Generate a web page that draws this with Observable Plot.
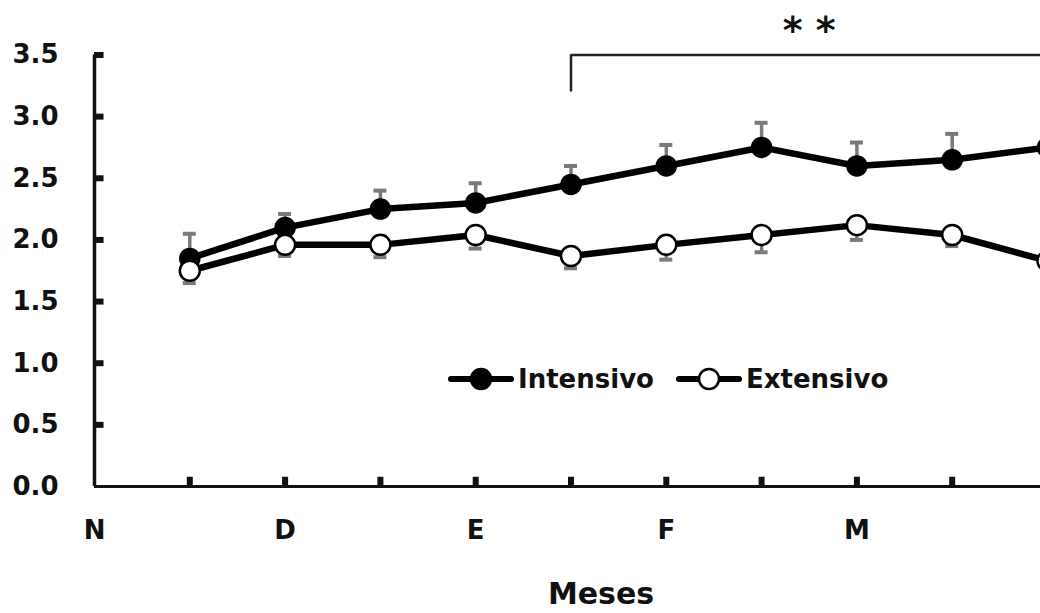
<!DOCTYPE html>
<html>
<head>
<meta charset="utf-8">
<script src="https://cdn.jsdelivr.net/npm/d3@7"></script>
<script src="https://cdn.jsdelivr.net/npm/@observablehq/plot@0.6"></script>
<style>
  html, body { margin: 0; padding: 0; background: #fff; overflow: hidden; }
  #wrap { position: relative; width: 1040px; height: 613px; }
  #legend { position: absolute; left: 448px; top: 364px; display: flex; align-items: center;
            font-family: "DejaVu Sans", sans-serif; font-weight: bold; font-size: 26px; color: #111; }
  #legend .item { display: flex; align-items: center; }
  #legend .item + .item { margin-left: 22px; }
  #legend svg { display: block; margin-right: 4px; }
</style>
</head>
<body>
<div id="wrap"></div>
<script>
// ---- data ----
const monthIndex = [1, 2, 3, 4, 5, 6, 7, 8, 9, 10];
const intensivo    = [1.85, 2.10, 2.25, 2.30, 2.45, 2.60, 2.75, 2.60, 2.65, 2.75];
const intensivoErr = [0.20, 0.11, 0.15, 0.16, 0.15, 0.17, 0.20, 0.19, 0.21, 0.18];
const extensivo    = [1.75, 1.96, 1.96, 2.04, 1.87, 1.96, 2.04, 2.12, 2.04, 1.83];
const extensivoErr = [0.10, 0.09, 0.10, 0.11, 0.10, 0.12, 0.14, 0.12, 0.09, 0.10];
const monthTicks  = [0, 2, 4, 6, 8];
const monthLabels = ["N", "D", "E", "F", "M"];
const yTicks = [0, 0.5, 1.0, 1.5, 2.0, 2.5, 3.0, 3.5];
const minorTicks = [1, 2, 3, 4, 5, 6, 7, 8, 9, 10];
const seriesNames = ["Intensivo", "Extensivo"];
const sigStart = 5, sigEnd = 10, sigLevel = 3.5, sigDrop = 0.3, sigLabel = "* *";
const xLabel = "Meses";

// ---- tables ----
const intData = monthIndex.map((x, i) => ({x, y: intensivo[i], lo: intensivo[i], hi: intensivo[i] + intensivoErr[i]}));
const extData = monthIndex.map((x, i) => ({x, y: extensivo[i], lo: extensivo[i] - extensivoErr[i], hi: extensivo[i]}));
const intCap = intData.map(d => ({x: d.x, y: d.hi}));
const extCap = extData.map(d => ({x: d.x, y: d.lo}));
const capHalf = 0.068;
const errColor = "#7a7a7a";

const chart = Plot.plot({
  width: 1040,
  height: 613,
  marginLeft: 94,
  marginRight: -7,
  marginTop: 54.5,
  marginBottom: 127,
  style: {fontFamily: "DejaVu Sans", background: "white", color: "#111"},
  x: {domain: [0, 10], range: [94, 1047]},
  y: {domain: [0, 3.5], range: [486, 54.5]},
  marks: [
    // axes lines
    Plot.ruleY([0], {stroke: "#111", strokeWidth: 3}),
    Plot.ruleX([0], {y1: 0, y2: 3.5, stroke: "#111", strokeWidth: 3.5}),
    // tick marks (inward)
    Plot.ruleY(yTicks.filter(d => d > 0), {x1: 0, x2: 0.1, stroke: "#111", strokeWidth: 6}),
    Plot.ruleX(minorTicks, {y1: 0, y2: 0.075, stroke: "#111", strokeWidth: 6}),
    // tick labels
    Plot.axisY({ticks: yTicks, tickFormat: d => d.toFixed(1), tickSize: 0, tickPadding: 36,
      fontSize: 26, fontWeight: "bold", label: null}),
    Plot.axisX({ticks: monthTicks, tickFormat: d => monthLabels[monthTicks.indexOf(d)], tickSize: 0,
      tickPadding: 34, fontSize: 26, fontWeight: "bold", label: null}),
    Plot.text([xLabel], {frameAnchor: "bottom", dx: 30, dy: 108, lineAnchor: "middle",
      fontSize: 30, fontWeight: "bold", fill: "#111"}),
    // significance bracket
    Plot.ruleY([sigLevel], {x1: sigStart, x2: sigEnd, stroke: "#222", strokeWidth: 2.5}),
    Plot.ruleX([sigStart], {y1: sigLevel - sigDrop, y2: sigLevel, stroke: "#222", strokeWidth: 2.5}),
    Plot.text([sigLabel], {x: (sigStart + sigEnd) / 2, y: sigLevel, dy: -24, lineAnchor: "middle",
      fontSize: 38, fontWeight: "bold", fill: "#111"}),
    // error bars
    Plot.ruleX(intData, {x: "x", y1: "lo", y2: "hi", stroke: errColor, strokeWidth: 3.5}),
    Plot.ruleY(intCap, {y: "y", x1: d => d.x - capHalf, x2: d => d.x + capHalf, stroke: errColor, strokeWidth: 4}),
    Plot.ruleX(extData, {x: "x", y1: "lo", y2: "hi", stroke: errColor, strokeWidth: 3.5}),
    Plot.ruleY(extCap, {y: "y", x1: d => d.x - capHalf, x2: d => d.x + capHalf, stroke: errColor, strokeWidth: 4}),
    // lines
    Plot.line(intData, {x: "x", y: "y", stroke: "#000", strokeWidth: 6.5}),
    Plot.line(extData, {x: "x", y: "y", stroke: "#000", strokeWidth: 6.5}),
    // markers
    Plot.dot(intData, {x: "x", y: "y", r: 10, fill: "#000", stroke: "#000", strokeWidth: 1.5}),
    Plot.dot(extData, {x: "x", y: "y", r: 10, fill: "#fff", stroke: "#000", strokeWidth: 2.5})
  ]
});

const wrap = document.getElementById("wrap");
wrap.appendChild(chart);

// legend
const legend = document.createElement("div");
legend.id = "legend";
seriesNames.forEach((name, i) => {
  const item = document.createElement("div");
  item.className = "item";
  const fill = i === 0 ? "#000" : "#fff";
  item.innerHTML = `<svg width="66" height="26" viewBox="0 0 66 26">
      <line x1="3" y1="13" x2="63" y2="13" stroke="#000" stroke-width="6" stroke-linecap="round"/>
      <circle cx="33" cy="13" r="10" fill="${fill}" stroke="#000" stroke-width="2.5"/>
    </svg><span>${name}</span>`;
  legend.appendChild(item);
});
wrap.appendChild(legend);
</script>
</body>
</html>
